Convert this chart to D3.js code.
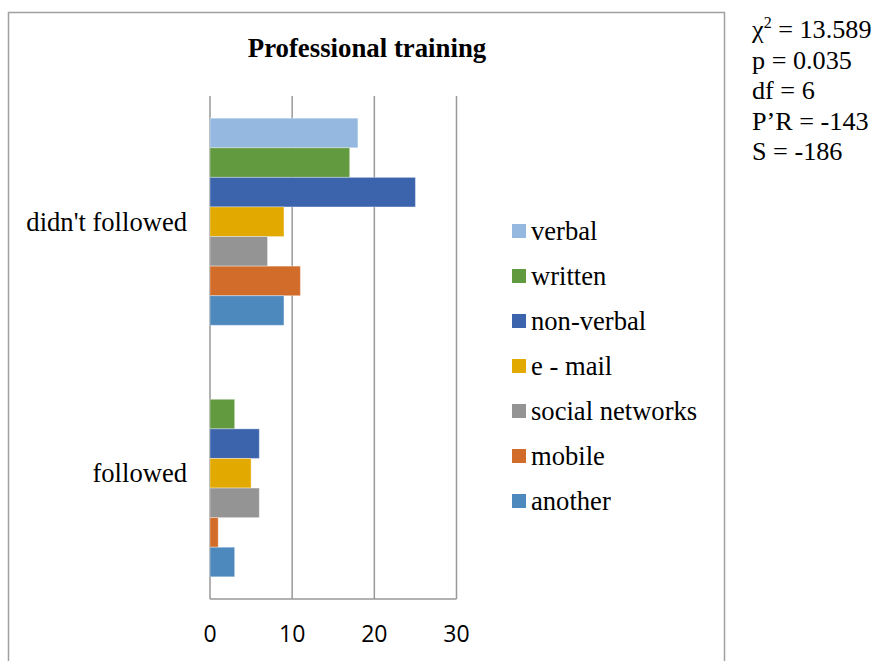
<!DOCTYPE html>
<html>
<head>
<meta charset="utf-8">
<script src="https://cdn.jsdelivr.net/npm/d3@7"></script>
<style>
  body { margin: 0; background: #fff; }
  svg { display: block; }
</style>
</head>
<body>
<svg id="root" width="877" height="661"></svg>
<script>
"use strict";

// chart data
const categories = ["didn't followed", "followed"];
const series = ["verbal", "written", "non-verbal", "e - mail", "social networks", "mobile", "another"];
const colors = ["#95b8e0", "#629a40", "#3b64ad", "#e2a900", "#949494", "#d26c2b", "#4e89bd"];
const didntFollowed = [18, 17, 25, 9, 7, 11, 9];
const followed = [0, 3, 6, 5, 6, 1, 3];
const xTicks = [0, 10, 20, 30];
const stats = ["= 13.589", "p = 0.035", "df = 6", "P\u2019R = -143", "S = -186"];

const values = [didntFollowed, followed];
const svg = d3.select("#root");
const serif = "'Liberation Serif', 'Times New Roman', serif";
const sans = "'Open Sans', Lato, sans-serif";

// chart frame (runs past the bottom edge)
svg.append("rect")
  .attr("x", 8.5)
  .attr("y", 12.5)
  .attr("width", 716)
  .attr("height", 700)
  .attr("fill", "white")
  .attr("stroke", "#a0a0a0")
  .attr("stroke-width", 1.5);

svg.append("text")
  .attr("x", 367)
  .attr("y", 57)
  .attr("text-anchor", "middle")
  .attr("font-family", serif)
  .attr("font-weight", "bold")
  .attr("font-size", "26.8px")
  .attr("fill", "black")
  .text("Professional training");

// scales
const x = d3.scaleLinear().domain([0, 30]).range([210, 456.5]);
const y = d3.scaleBand().domain(categories).range([96, 599]);
const yInner = d3.scaleBand()
  .domain(series)
  .range([0, y.bandwidth()])
  .paddingInner(0)
  .paddingOuter(0.75);

// gridlines
svg.append("g")
  .selectAll("line")
  .data(xTicks)
  .join("line")
  .attr("x1", (d) => x(d))
  .attr("x2", (d) => x(d))
  .attr("y1", 96)
  .attr("y2", 599)
  .attr("stroke", "#999999")
  .attr("stroke-width", 1.5);

svg.append("line")
  .attr("x1", x(0))
  .attr("x2", x(30))
  .attr("y1", 599)
  .attr("y2", 599)
  .attr("stroke", "#999999")
  .attr("stroke-width", 1.5);

// bars
const groups = svg.append("g")
  .selectAll("g")
  .data(categories)
  .join("g")
  .attr("transform", (d) => `translate(0, ${y(d)})`);

groups.selectAll("rect")
  .data((c, i) => series.map((s, j) => ({ s, j, v: values[i][j] })))
  .join("rect")
  .attr("x", x(0))
  .attr("y", (d) => yInner(d.s))
  .attr("width", (d) => x(d.v) - x(0))
  .attr("height", yInner.bandwidth())
  .attr("fill", (d) => colors[d.j])
  .attr("stroke", "rgba(255,255,255,0.35)")
  .attr("stroke-width", 1);

// category labels
svg.append("g")
  .selectAll("text")
  .data(categories)
  .join("text")
  .attr("x", 187)
  .attr("y", (d) => y(d) + y.bandwidth() / 2)
  .attr("dy", "0.33em")
  .attr("text-anchor", "end")
  .attr("font-family", serif)
  .attr("font-size", "26.6px")
  .attr("fill", "black")
  .text((d) => d);

// x tick labels
svg.append("g")
  .selectAll("text")
  .data(xTicks)
  .join("text")
  .attr("x", (d) => x(d))
  .attr("y", 634)
  .attr("dy", "0.36em")
  .attr("text-anchor", "middle")
  .attr("font-family", sans)
  .attr("font-size", "23px")
  .attr("fill", "black")
  .text((d) => d);

// legend
const legend = svg.append("g")
  .selectAll("g")
  .data(series)
  .join("g")
  .attr("transform", (d, i) => `translate(512, ${231 + i * 45})`);

legend.append("rect")
  .attr("x", 0)
  .attr("y", -7)
  .attr("width", 14)
  .attr("height", 14)
  .attr("fill", (d, i) => colors[i]);

legend.append("text")
  .attr("x", 19)
  .attr("dy", "0.33em")
  .attr("font-family", serif)
  .attr("font-size", "26.6px")
  .attr("fill", "black")
  .text((d) => d);

// test statistics to the right of the chart
const statText = svg.append("g")
  .selectAll("text")
  .data(stats)
  .join("text")
  .attr("x", 752)
  .attr("y", (d, i) => 38 + i * 30.5)
  .attr("font-family", serif)
  .attr("font-size", "26.2px")
  .attr("fill", "black");

statText.each(function (d, i) {
  const t = d3.select(this);
  if (i === 0) {
    t.append("tspan").text("\u03c7");
    t.append("tspan").attr("dy", -10).attr("font-size", "16px").text("2");
    t.append("tspan").attr("dy", 10).text(" " + d);
  } else {
    t.text(d);
  }
});
</script>
</body>
</html>
